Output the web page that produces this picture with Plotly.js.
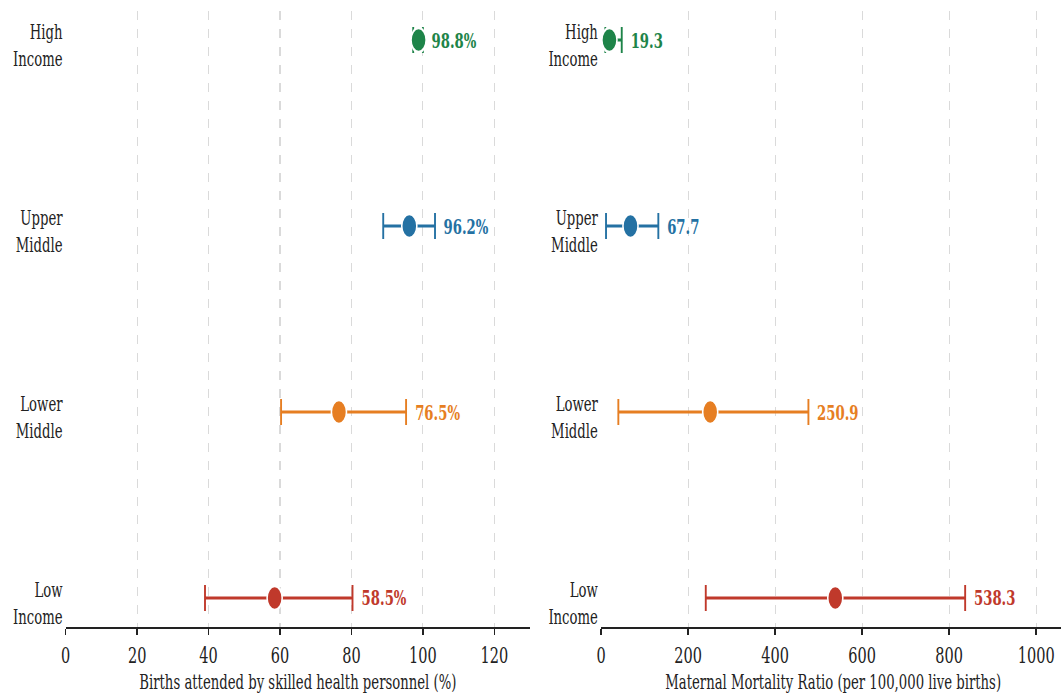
<!DOCTYPE html>
<html>
<head>
<meta charset="utf-8">
<script src="https://cdn.plot.ly/plotly-3.0.1.min.js"></script>
<style>
  html, body { margin: 0; padding: 0; background: #fff; overflow: hidden; }
  #wrap { width: 1061px; height: 696px; overflow: hidden; position: relative; }
  #chart { width: 1700px; height: 696px; transform: scaleX(0.63); transform-origin: 0 0; }
</style>
</head>
<body>
<div id="wrap"><div id="chart"></div></div>
<script>
// Income groups, bottom to top
const groups = ['Low<br>Income', 'Lower<br>Middle', 'Upper<br>Middle', 'High<br>Income'];
const groupColors = ['#c0392b', '#e67e22', '#2471a3', '#1e8449'];

// Births attended by skilled health personnel (%): median and spread
const sbaValues = [58.5, 76.5, 96.2, 98.8];
const sbaLow    = [39.0, 60.3, 88.9, 97.3];
const sbaHigh   = [80.3, 95.3, 103.4, 100.0];

// Maternal mortality ratio (per 100,000 live births): median and spread
const mmrValues = [538.3, 250.9, 67.7, 19.3];
const mmrLow    = [240.7, 39.8, 11.5, 10.0];
const mmrHigh   = [836.8, 476.6, 131.7, 47.6];

const sbaTicks = [0, 20, 40, 60, 80, 100, 120];
const mmrTicks = [0, 200, 400, 600, 800, 1000];

const FONT = 'DejaVu Serif, serif';
const yPos = groups.map((g, i) => i);

function panelTraces(vals, lo, hi, xa, ya) {
  return vals.map((v, i) => ({
    type: 'scatter', mode: 'markers',
    x: [v], y: [yPos[i]], xaxis: xa, yaxis: ya,
    marker: { size: 24, color: groupColors[i], line: { color: '#fff', width: 2.5 } },
    error_x: {
      type: 'data', symmetric: false,
      array: [hi[i] - v], arrayminus: [v - lo[i]],
      color: groupColors[i], thickness: 3, width: 13
    },
    showlegend: false, hoverinfo: 'skip'
  }));
}

function valueLabels(vals, hi, xref, yref, suffix) {
  return vals.map((v, i) => ({
    x: hi[i], y: yPos[i], xref: xref, yref: yref,
    text: v.toFixed(1) + suffix, showarrow: false,
    xanchor: 'left', yanchor: 'middle', xshift: 12,
    font: { family: FONT, size: 21, weight: 'bold', color: groupColors[i] }
  }));
}

const traces = [].concat(
  panelTraces(sbaValues, sbaLow, sbaHigh, 'x', 'y'),
  panelTraces(mmrValues, mmrLow, mmrHigh, 'x2', 'y2')
);

function xAxis(domain, range, ticks, title) {
  return {
    domain: domain, range: range, tickvals: ticks, ticktext: ticks.map(String),
    showline: true, linecolor: '#222', linewidth: 2,
    ticks: 'outside', ticklen: 6, tickwidth: 2.4, tickcolor: '#222',
    tickfont: { family: FONT, size: 23, color: '#222' },
    showgrid: true, gridcolor: '#dadada', griddash: 'dash', gridwidth: 1.6,
    zeroline: false, fixedrange: true,
    title: { text: title, font: { family: FONT, size: 21, color: '#222' }, standoff: 8 }
  };
}

function yAxis(anchor) {
  return {
    anchor: anchor, domain: [0, 1], range: [-0.156, 3.156],
    tickvals: yPos, ticktext: groups,
    showline: false, showgrid: false, zeroline: false, ticks: '',
    ticklabelstandoff: 4, ticklabelshift: 5,
    tickfont: { family: FONT, size: 21, color: '#222' }, fixedrange: true
  };
}

const layout = {
  width: 1700, height: 696,
  margin: { l: 0, r: 0, t: 11, b: 69 },
  paper_bgcolor: '#fff', plot_bgcolor: '#fff',
  showlegend: false,
  xaxis: xAxis([0.06135, 0.49488], [0, 130], sbaTicks, 'Births attended by skilled health personnel (%)'),
  yaxis: yAxis('x'),
  xaxis2: xAxis([0.56118, 0.99471], [0, 1067], mmrTicks, 'Maternal Mortality Ratio (per 100,000 live births)'),
  yaxis2: yAxis('x2'),
  annotations: [].concat(
    valueLabels(sbaValues, sbaHigh, 'x', 'y', '%'),
    valueLabels(mmrValues, mmrHigh, 'x2', 'y2', '')
  )
};

Plotly.newPlot('chart', traces, layout, { staticPlot: true, displayModeBar: false });
</script>
</body>
</html>
